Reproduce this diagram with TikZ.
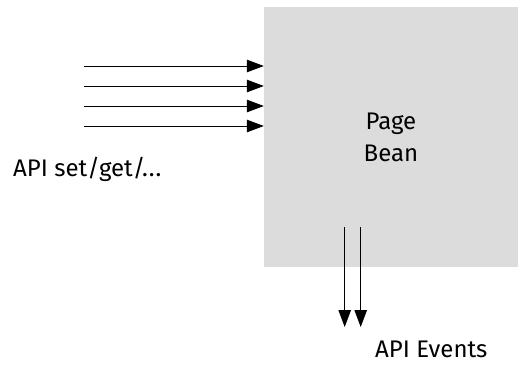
\documentclass[tikz,border=0pt]{standalone}
\usepackage{fontspec}
\setmainfont{Fira Sans}
\usetikzlibrary{arrows.meta}
\definecolor{beangray}{HTML}{DCDCDC}
\tikzset{
  arr/.style={line width=1pt,-{Triangle[length=17pt,width=12.5pt]}},
  lbl/.style={anchor=base west,inner sep=0pt,text=black,font=\fontsize{24}{32}\selectfont}
}
\begin{document}
\begin{tikzpicture}[x=1pt,y=-1pt]
\useasboundingbox (0,0) rectangle (518,367);
\node[fill=beangray,minimum width=254pt,minimum height=260pt,inner sep=0pt,
      align=center,font=\fontsize{24}{32}\selectfont] (bean) at (391,137) {Page\\Bean};
\foreach \i/\y in {1/66,2/86,3/106,4/126}{
  \coordinate (s\i) at (84,\y);
  \draw[arr] (s\i) -- (s\i -| bean.west);
}
\coordinate (d1) at (344.7,227);
\coordinate (d2) at (360.7,227);
\coordinate (e1) at (344.7,327);
\coordinate (e2) at (360.7,327);
\draw[arr] (d1) -- (e1);
\draw[arr] (d2) -- (e2);
\node[lbl] (api) at (13,176) {API set/get/.\kern1pt.\kern1pt.};
\node[lbl] (ev) at (375,357) {API Events};
\end{tikzpicture}
\end{document}
